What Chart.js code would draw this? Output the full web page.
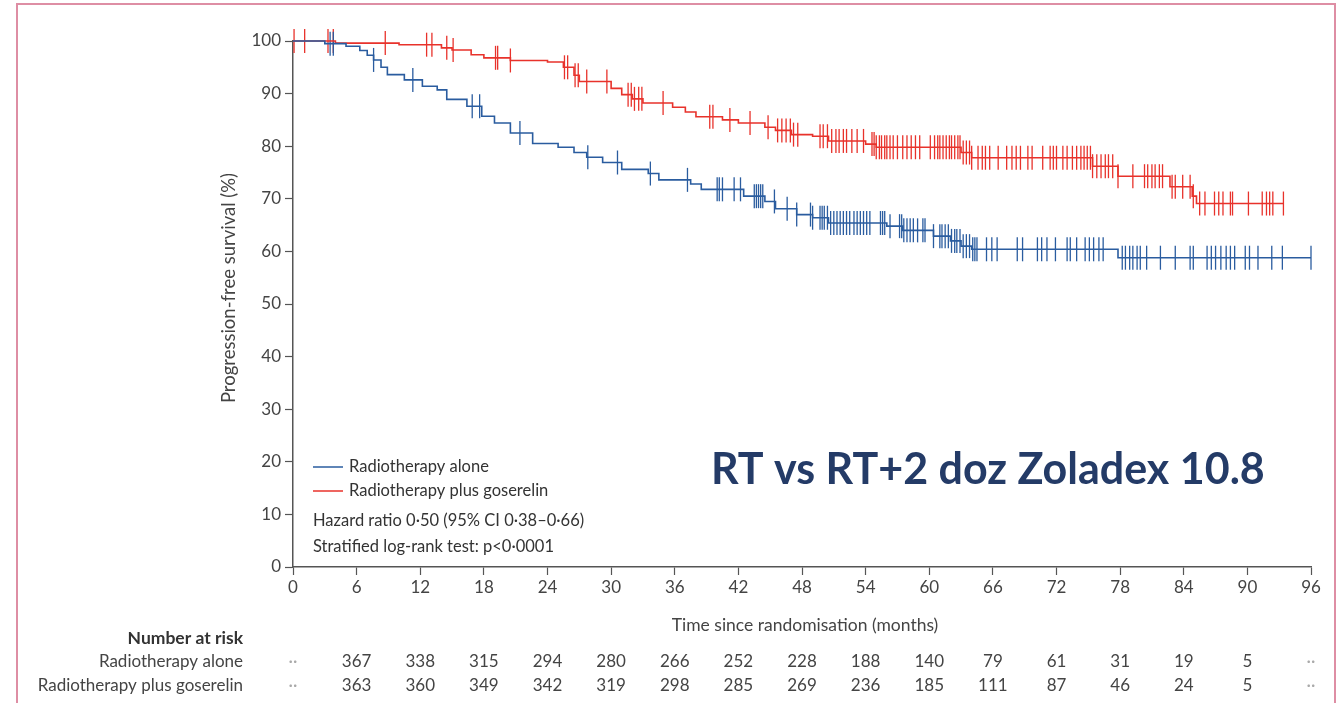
<!DOCTYPE html>
<html>
<head>
<meta charset="utf-8">
<title>Progression-free survival</title>
<script src="https://cdn.jsdelivr.net/npm/chart.js@4.4.1/dist/chart.umd.min.js"></script>
<style>
  body { margin: 0; background: #fff; }
  #wrap { position: relative; width: 1340px; height: 703px; overflow: hidden; background: #fff; }
  #frame { position: absolute; left: 16px; top: 3px; width: 1320px; height: 740px; border: 2px solid #de8ea4; box-sizing: border-box; }
  #pfsChart { position: absolute; left: 0; top: 0; }
</style>
</head>
<body>
<div id="wrap">
  <div id="frame"></div>
  <canvas id="pfsChart" width="1340" height="703"></canvas>
</div>
<script>
// Kaplan-Meier steps: time (months) and progression-free survival (%)
const aloneTimes = [0, 3, 5, 6.3, 7.0, 7.6, 8.3, 8.9, 10.5, 12.2, 13.6, 14.5, 16.4, 17.8, 19, 20.5, 22.6, 25, 26.5, 27.7, 29.2, 31, 33.5, 34.5, 37.5, 38.5, 42.5, 44.5, 45.5, 47.5, 49, 50.5, 56, 57.5, 60.4, 62, 63, 64, 77.8, 96];
const aloneSurv  = [100, 99.5, 99.0, 98.2, 97.3, 96.4, 95.0, 93.6, 92.6, 91.4, 90.7, 88.9, 87.6, 85.7, 84.4, 82.5, 80.5, 79.8, 78.8, 77.9, 76.9, 75.6, 74.8, 73.6, 72.8, 71.8, 70.5, 69.5, 68.1, 67.0, 66.4, 65.4, 64.8, 64.0, 62.9, 62.0, 61.0, 60.4, 58.8, 58.8];

const gosTimes = [0, 4, 10, 14, 15, 16.8, 18, 20.5, 24, 25.5, 26.5, 27, 30, 31, 32, 33, 35.8, 37, 38, 40.5, 42, 44.5, 45.5, 47, 49, 50.5, 54, 55, 63, 64, 75.4, 77.8, 82.7, 84.8, 85.2, 93.4];
const gosSurv  = [100, 99.6, 99.3, 98.7, 98.3, 97.4, 96.8, 96.3, 96.0, 95.0, 93.5, 92.3, 91.0, 89.8, 89.0, 88.2, 87.4, 86.5, 85.6, 85.0, 84.4, 83.6, 83.0, 82.2, 81.9, 81.0, 80.4, 79.8, 78.8, 77.8, 76.2, 74.3, 72.3, 70.5, 69.1, 69.1];

// censoring times (months)
const aloneCensored = [3.5, 3.8, 7.6, 11.3, 16.9, 17.6, 21.4, 27.8, 30.6, 33.7, 37.2, 40.0, 40.2, 40.5, 41.6, 42.2, 43.5, 43.7, 43.9, 44.1, 44.3, 45.4, 46.6, 47.5, 48.8, 49.0, 49.7, 49.9, 50.1, 50.4, 50.7, 51.0, 51.3, 51.6, 51.9, 52.2, 52.5, 52.9, 53.2, 53.5, 53.8, 54.1, 54.4, 55.4, 55.6, 55.8, 56.3, 57.2, 57.4, 57.6, 57.9, 58.2, 58.5, 58.9, 59.4, 59.6, 60.4, 61.0, 61.2, 61.5, 61.8, 62.1, 62.4, 62.6, 62.9, 63.2, 63.5, 63.8, 64.1, 64.3, 64.5, 65.4, 65.9, 66.4, 68.3, 68.8, 70.2, 70.6, 71.1, 71.9, 73.0, 73.3, 73.9, 74.7, 75.1, 75.5, 76.0, 76.4, 78.2, 78.5, 78.9, 79.2, 79.6, 79.9, 80.5, 81.8, 83.2, 84.6, 84.9, 86.2, 86.6, 87.0, 87.5, 88.0, 88.4, 88.8, 89.8, 90.2, 91.0, 92.3, 93.3, 96.0];
const gosCensored = [0.1, 1.1, 3.3, 3.8, 8.7, 12.6, 13.1, 14.5, 15.1, 19.1, 19.3, 20.5, 25.6, 25.9, 26.6, 26.9, 27.7, 29.6, 31.6, 31.9, 32.2, 32.6, 32.9, 34.9, 39.3, 39.6, 41.2, 43.1, 44.8, 45.7, 46.1, 46.5, 46.9, 47.2, 47.6, 49.7, 50.0, 50.4, 50.8, 51.2, 51.5, 51.9, 52.2, 52.7, 53.2, 53.8, 54.6, 54.8, 55.0, 55.3, 55.5, 55.8, 56.0, 56.3, 56.6, 57.0, 57.5, 57.9, 58.3, 58.7, 59.1, 60.1, 60.5, 60.8, 61.0, 61.3, 61.6, 61.9, 62.1, 62.4, 62.7, 62.9, 63.2, 63.5, 63.8, 64.0, 64.6, 65.0, 65.3, 65.7, 66.5, 67.3, 67.8, 68.2, 68.6, 69.3, 69.7, 70.7, 71.4, 71.7, 72.0, 72.6, 73.0, 73.5, 73.9, 74.3, 74.6, 74.9, 75.2, 75.4, 75.8, 76.2, 76.6, 76.9, 77.3, 77.8, 79.2, 80.3, 80.6, 81.0, 81.3, 81.7, 82.0, 82.9, 83.2, 83.9, 84.6, 84.9, 85.5, 86.0, 86.9, 87.3, 87.7, 88.4, 88.6, 90.1, 91.4, 91.8, 92.1, 92.4, 93.4];

// number at risk table
const riskMonths = [0, 6, 12, 18, 24, 30, 36, 42, 48, 54, 60, 66, 72, 78, 84, 90, 96];
const riskAlone = ['··', 367, 338, 315, 294, 280, 266, 252, 228, 188, 140, 79, 61, 31, 19, 5, '··'];
const riskGos   = ['··', 363, 360, 349, 342, 319, 298, 285, 269, 236, 185, 111, 87, 46, 24, 5, '··'];

const BLUE = '#2a5c9f';
const RED = '#e8322b';
const FONT = 'Lato, "Open Sans", sans-serif';

function toPoints(times, surv) {
  return times.map((t, i) => ({ x: t, y: surv[i] }));
}

// survival level at time t from the step table
function survivalAt(times, surv, t) {
  let v = surv[0];
  for (let i = 0; i < times.length; i++) {
    if (times[i] <= t) v = surv[i];
  }
  return v;
}

function censorPoints(censored, times, surv) {
  return censored.map(t => ({ x: t, y: survivalAt(times, surv, t) }));
}

const textPlugin = {
  id: 'kmText',
  afterDraw(chart) {
    const { ctx, chartArea, scales: { x } } = chart;
    ctx.save();

    // axis titles
    ctx.fillStyle = '#444';
    ctx.textAlign = 'center';
    ctx.textBaseline = 'middle';
    ctx.font = '17.5px ' + FONT;
    ctx.fillText('Time since randomisation (months)', (chartArea.left + chartArea.right) / 2 + 3, 625);
    ctx.save();
    ctx.translate(229, 288);
    ctx.rotate(-Math.PI / 2);
    ctx.font = '18.5px ' + FONT;
    ctx.fillText('Progression-free survival (%)', 0, 0);
    ctx.restore();

    // legend inside plot
    const lx = chartArea.left + 20;
    ctx.lineWidth = 1.5;
    ctx.strokeStyle = BLUE;
    ctx.beginPath(); ctx.moveTo(lx, 467); ctx.lineTo(lx + 30, 467); ctx.stroke();
    ctx.strokeStyle = RED;
    ctx.beginPath(); ctx.moveTo(lx, 491); ctx.lineTo(lx + 30, 491); ctx.stroke();
    ctx.textAlign = 'left';
    ctx.fillStyle = '#333';
    ctx.font = '16.5px ' + FONT;
    ctx.fillText('Radiotherapy alone', lx + 36, 467);
    ctx.fillText('Radiotherapy plus goserelin', lx + 36, 491);
    ctx.fillText('Hazard ratio 0·50 (95% CI 0·38–0·66)', lx, 521);
    ctx.fillText('Stratified log-rank test: p<0·0001', lx, 547);

    // number at risk
    ctx.textAlign = 'right';
    ctx.font = 'bold 17.5px ' + FONT;
    ctx.fillStyle = '#333';
    ctx.fillText('Number at risk', 243, 638);
    ctx.font = '17px ' + FONT;
    ctx.fillStyle = '#444';
    ctx.fillText('Radiotherapy alone', 243, 662);
    ctx.fillText('Radiotherapy plus goserelin', 243, 686);
    ctx.textAlign = 'center';
    riskMonths.forEach((m, i) => {
      const px = x.getPixelForValue(m);
      [[riskAlone[i], 662], [riskGos[i], 686]].forEach(([v, py]) => {
        ctx.fillStyle = v === '··' ? '#aaa' : '#444';
        ctx.fillText(String(v), px, py);
      });
    });

    // headline
    ctx.textAlign = 'left';
    ctx.textBaseline = 'alphabetic';
    ctx.font = 'bold 43px ' + FONT;
    ctx.fillStyle = '#243b67';
    ctx.fillText('RT vs RT+2 doz Zoladex 10.8', 711, 484, 557);

    ctx.restore();
  }
};

const ctx = document.getElementById('pfsChart').getContext('2d');
new Chart(ctx, {
  type: 'scatter',
  data: {
    datasets: [
      {
        label: 'Radiotherapy alone',
        data: toPoints(aloneTimes, aloneSurv),
        showLine: true,
        stepped: true,
        borderColor: BLUE,
        borderWidth: 1.6,
        pointRadius: 0,
        clip: false,
      },
      {
        label: 'Radiotherapy plus goserelin',
        data: toPoints(gosTimes, gosSurv),
        showLine: true,
        stepped: true,
        borderColor: RED,
        borderWidth: 1.6,
        pointRadius: 0,
        clip: false,
      },
      {
        label: 'censored alone',
        data: censorPoints(aloneCensored, aloneTimes, aloneSurv),
        pointStyle: 'line',
        rotation: 90,
        pointRadius: 12,
        borderColor: BLUE,
        borderWidth: 1.3,
        clip: false,
      },
      {
        label: 'censored goserelin',
        data: censorPoints(gosCensored, gosTimes, gosSurv),
        pointStyle: 'line',
        rotation: 90,
        pointRadius: 12,
        borderColor: RED,
        borderWidth: 1.3,
        clip: false,
      },
    ],
  },
  options: {
    responsive: false,
    animation: false,
    events: [],
    layout: { padding: { left: 0, top: 41, right: 29, bottom: 96 } },
    plugins: {
      legend: { display: false },
      tooltip: { enabled: false },
    },
    scales: {
      x: {
        type: 'linear',
        min: 0,
        max: 96,
        afterFit: (s) => { s.height = 40; },
        ticks: { stepSize: 6, color: '#444', padding: 2, font: { family: FONT, size: 17 } },
        grid: { drawOnChartArea: false, tickLength: 8, tickColor: '#555', tickWidth: 1.2 },
        border: { display: true, color: '#555', width: 1.5 },
      },
      y: {
        min: 0,
        max: 100,
        afterFit: (s) => { s.width = 293; },
        ticks: { stepSize: 10, color: '#444', padding: 4, font: { family: FONT, size: 17 } },
        grid: { drawOnChartArea: false, tickLength: 8, tickColor: '#555', tickWidth: 1.2 },
        border: { display: true, color: '#555', width: 1.5 },
      },
    },
  },
  plugins: [textPlugin],
});
</script>
</body>
</html>
